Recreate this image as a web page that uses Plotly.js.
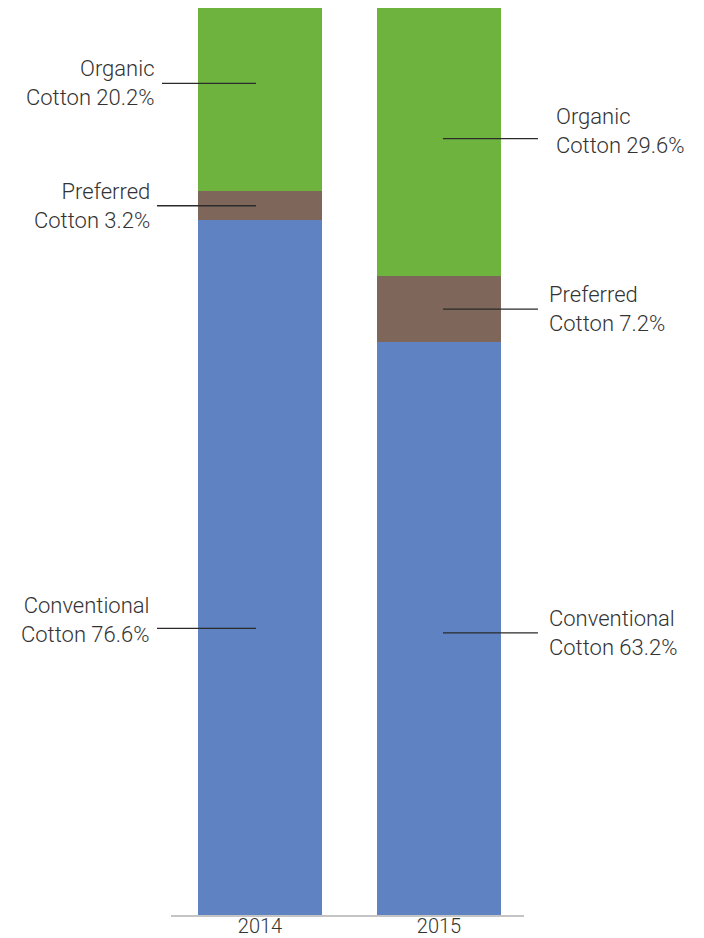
<!DOCTYPE html>
<html>
<head>
<meta charset="utf-8">
<script src="https://cdn.plot.ly/plotly-3.0.1.min.js"></script>
<style>html,body{margin:0;padding:0;background:#fff;}#chart{width:704px;height:938px;}</style>
</head>
<body>
<div id="chart"></div>
<script>
// ---- data ----
var years = ['2014', '2015'];
var conventional = [76.6, 63.2];
var preferred = [3.2, 7.2];
var organic = [20.2, 29.6];
var seriesNames = ['Conventional', 'Preferred', 'Organic'];

// ---- styling / layout config ----
var colors = {Conventional: '#5f82c2', Preferred: '#7f665b', Organic: '#6fb33f'};
var textColor = '#333333';
var fontFamily = 'Roboto, "Liberation Sans", Arial, sans-serif';
// label placement: y (data units, null = segment middle), ax (px), pad (px gap), raise (px text above line)
var labelPos = {
  '2014': {
    anchor: 'right',
    Organic: {y: 91.7, ax: -98, pad: 6, raise: 0},
    Preferred: {y: null, ax: -103, pad: 6, raise: 0},
    Conventional: {y: 31.6, ax: -103, pad: 6, raise: 7}
  },
  '2015': {
    anchor: 'left',
    Organic: {y: 85.6, ax: 99, pad: 17, raise: 6},
    Preferred: {y: null, ax: 99, pad: 10, raise: 0},
    Conventional: {y: 31.1, ax: 99, pad: 10, raise: 0}
  }
};
var labelFontSize = 22;

var valuesBy = {Conventional: conventional, Preferred: preferred, Organic: organic};

var traces = seriesNames.map(function (name) {
  return {
    type: 'bar',
    name: name,
    x: years,
    y: valuesBy[name],
    marker: {color: colors[name], line: {width: 0}},
    width: 0.693,
    hoverinfo: 'skip'
  };
});

var annotations = [];
years.forEach(function (yr, i) {
  var base = 0;
  seriesNames.forEach(function (name) {
    var v = valuesBy[name][i];
    var p = labelPos[yr][name];
    var yv = (p.y === null) ? base + v / 2 : p.y;
    var textH = Math.round(2 * 1.3 * labelFontSize);
    var ann = {
      x: i, y: yv, xref: 'x', yref: 'y',
      text: name + '<br>Cotton ' + v.toFixed(1) + '%',
      showarrow: true, arrowhead: 0, arrowwidth: 1.3, arrowcolor: '#2b2b2b',
      ax: p.ax, ay: 0,
      standoff: 4,
      xanchor: labelPos[yr].anchor,
      align: labelPos[yr].anchor,
      borderpad: p.pad,
      font: {family: fontFamily, size: labelFontSize, color: textColor, weight: 300}
    };
    if (p.raise) {
      ann.height = textH + 2 * p.raise;
      ann.valign = 'top';
    }
    annotations.push(ann);
    base += v;
  });
});

var layout = {
  width: 704, height: 938,
  margin: {l: 171, r: 180, t: 8, b: 23, pad: 0},
  barmode: 'stack',
  showlegend: false,
  paper_bgcolor: '#ffffff', plot_bgcolor: '#ffffff',
  xaxis: {
    type: 'category', range: [-0.497, 1.475],
    showline: true, linecolor: '#c4c4c4', linewidth: 2,
    showgrid: false, zeroline: false, ticks: '',
    ticklabelstandoff: -8,
    tickfont: {family: fontFamily, size: 20, color: textColor, weight: 300}
  },
  yaxis: {
    range: [0, 100], showticklabels: false, showline: false, showgrid: false, zeroline: false, ticks: '', fixedrange: true
  },
  annotations: annotations
};

Plotly.newPlot('chart', traces, layout, {displayModeBar: false});
</script>
</body>
</html>
